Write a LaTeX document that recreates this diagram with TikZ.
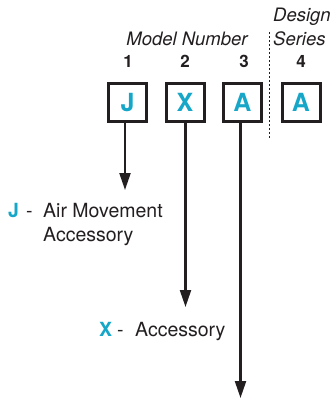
\documentclass[tikz,border=0pt]{standalone}
\usepackage{fontspec}
\setmainfont{TeX Gyre Heros}
\usetikzlibrary{arrows.meta}
\definecolor{acc}{RGB}{22,166,200}
\definecolor{ink}{RGB}{35,31,32}
\tikzset{
  codebox/.style={draw=ink,line width=3pt,minimum width=38pt,minimum height=38pt,inner sep=0pt,
    font=\fontsize{25}{25}\selectfont\bfseries,text=acc},
  numlbl/.style={font=\fontsize{17}{17}\selectfont\bfseries,text=ink,anchor=base,inner sep=0pt},
  headlbl/.style={font=\fontsize{18.5}{18.5}\selectfont\itshape,text=ink,anchor=base,inner sep=0pt},
  desc/.style={font=\fontsize{19.5}{20}\selectfont,text=ink,anchor=base west,inner sep=0pt},
  code/.style={font=\fontsize{19.5}{20}\selectfont\bfseries,text=acc,anchor=base west,inner sep=0pt},
  pointer/.style={draw=ink,line width=2.2pt,-{Triangle[length=17pt,width=11pt]}},
}
\begin{document}
\begin{tikzpicture}[x=1pt,y=1pt]
\useasboundingbox (0,0) rectangle (333,-398);
% header
\node[headlbl] (model) at (187,-45.5) {Model Number};
\node[headlbl,anchor=base west] (design) at (273,-22) {Design};
\node[headlbl,anchor=base west] (series) at (273,-45.5) {Series};
% numbers
\node[numlbl] (n1) at (128,-68) {1};
\node[numlbl] (n2) at (185,-68) {2};
\node[numlbl] (n3) at (244,-68) {3};
\node[numlbl] (n4) at (301,-68) {4};
% boxes
\node[codebox] (bJ) at (127.5,-102.5) {J};
\node[codebox] (bX) at (185,-102.5) {X};
\node[codebox] (bA) at (242.5,-102.5) {A};
\node[codebox] (bD) at (301,-102.5) {A};
% dashed divider
\coordinate (dtop) at (269,-32);
\coordinate (dbot) at (269,-138);
\draw[draw=ink,line width=1pt,dash pattern=on 2.5pt off 1.5pt] (dtop) -- (dbot);
% pointer ends
\coordinate (tJ) at (125,-190);
\coordinate (tX) at (185.5,-307);
\coordinate (tA) at (240.5,-398);
\draw[pointer] (bJ.south -| tJ) -- (tJ);
\draw[pointer] (bX.south -| tX) -- (tX);
\draw[pointer] (bA.south -| tA) -- (tA);
% descriptions
\node[code] (cJ) at (8,-217) {J};
\node[desc] (dashJ) at (26,-217) {-};
\node[desc] (dJ1) at (43,-217) {Air Movement};
\node[desc] (dJ2) at (43,-241) {Accessory};
\node[code] (cX) at (99,-336) {X};
\node[desc] (dashX) at (117,-336) {-};
\node[desc] (dX1) at (135,-336) {Accessory};
\end{tikzpicture}
\end{document}
